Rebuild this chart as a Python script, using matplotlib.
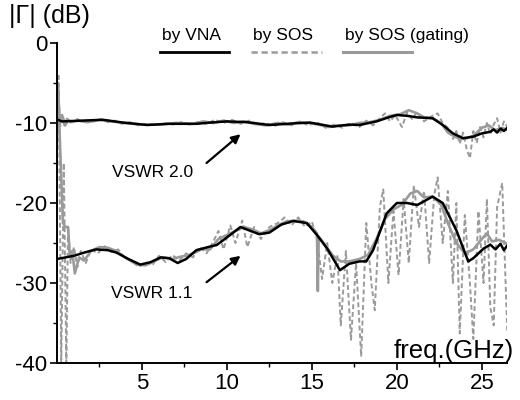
import numpy as np
import matplotlib
matplotlib.use("Agg")
import matplotlib.pyplot as plt
from matplotlib.lines import Line2D

plt.rcParams['font.family'] = ['Liberation Sans', 'DejaVu Sans']
plt.rcParams['axes.unicode_minus'] = False

# ---------------- data ----------------
# VSWR 2.0 load
vna_20_f = [0.05, 0.3, 1.5, 2.7, 3.9, 5.3, 6.6, 8.2, 9.0, 10.0, 11.2, 12.5, 13.9, 14.9, 16.2,
            17.2, 17.8, 18.8, 19.5, 20.0, 20.6, 21.2, 22.1, 22.7, 23.3, 23.9, 24.5, 25.0,
            25.5, 25.7, 25.9, 26.1, 26.3, 26.5]
vna_20_v = [-9.6, -9.8, -9.7, -9.6, -9.95, -10.25, -10.1, -10.1, -9.95, -9.8, -9.9, -10.25, -10.05,
            -9.95, -10.45, -10.2, -10.25, -9.8, -9.3, -9.0, -9.1, -9.3, -9.4, -10.25, -11.3, -11.9,
            -11.7, -11.3, -11.1, -10.8, -11.2, -10.7, -11.0, -10.6]

gate_20_f = [0.05, 0.15, 0.3, 0.45, 0.6, 0.8, 1.2, 1.8, 2.5, 3.2, 4.0, 5.0, 6.0, 7.0, 8.0, 8.6,
             9.2, 9.8, 10.4, 11.0, 11.6, 12.3, 13.0, 13.6, 14.2, 14.8, 15.4, 16.0, 16.6, 17.2,
             17.8, 18.4, 19.0, 19.6, 20.2, 20.7, 21.2, 21.6, 22.1, 22.6, 23.0, 23.5, 24.0, 24.5,
             25.0, 25.4, 25.8, 26.2, 26.5]
gate_20_v = [-5.2, -9.5, -9.0, -10.3, -9.5, -9.9, -9.7, -9.9, -9.6, -9.8, -10.0, -10.2, -10.2,
             -10.0, -10.1, -9.8, -10.0, -9.7, -10.0, -9.8, -10.1, -10.3, -10.0, -10.2, -9.9, -10.0,
             -10.2, -10.5, -10.3, -10.3, -10.0, -9.9, -9.6, -9.1, -8.9, -8.4, -8.8, -9.3, -9.4,
             -10.0, -11.2, -11.8, -12.0, -11.6, -10.6, -10.3, -10.9, -10.6, -10.9]

sos_20_f = [0.05, 0.2, 0.35, 0.5, 0.7, 0.9, 1.2, 1.5, 1.8, 2.2, 2.6, 3.0, 3.4, 3.8, 4.3, 4.8,
            5.3, 5.8, 6.3, 6.8, 7.3, 7.8, 8.3, 8.8, 9.3, 9.8, 10.3, 10.8, 11.3, 11.8, 12.3, 12.8,
            13.3, 13.8, 14.3, 14.8, 15.3, 15.8, 16.3, 16.8, 17.3, 17.8, 18.2, 18.6, 19.0, 19.3,
            19.6, 19.9, 20.3, 20.6, 20.9, 21.2, 21.6, 22.0, 22.4, 22.7, 23.0, 23.3, 23.5, 23.7,
            23.9, 24.1, 24.3, 24.5, 24.7, 24.9, 25.1, 25.3, 25.5, 25.7, 25.9, 26.1, 26.3, 26.5]
sos_20_v = [-5.0, -10.4, -9.2, -10.3, -9.6, -9.9, -9.5, -9.9, -9.6, -9.8, -9.5, -9.9, -9.7, -10.1,
            -9.9, -10.3, -10.1, -10.3, -10.0, -10.2, -9.9, -10.2, -9.9, -10.1, -9.6, -10.0, -9.6,
            -10.1, -9.7, -10.2, -10.0, -10.4, -9.9, -10.3, -9.8, -10.3, -9.9, -10.6, -10.2, -10.6,
            -10.0, -10.5, -9.7, -10.3, -9.4, -8.8, -9.8, -9.0, -10.5, -8.7, -9.5, -8.6, -9.8, -9.2,
            -8.8, -10.0, -10.6, -12.0, -11.0, -12.6, -11.2, -13.2, -14.4, -11.0, -12.5, -10.5,
            -11.8, -10.0, -11.4, -10.2, -9.4, -11.2, -9.8, -10.5]

# VSWR 1.1 load
vna_11_f = [0.0, 0.5, 1.0, 1.6, 2.3, 3.0, 3.5, 4.2, 4.9, 5.5, 6.1, 6.6, 7.1, 7.6, 8.2, 8.9, 9.4,
            10.0, 10.8, 11.4, 11.9, 12.5, 13.2, 13.9, 14.7, 15.3, 15.9, 16.65, 17.2, 17.8, 18.2,
            18.6, 19.4, 20.0, 20.6, 21.2, 22.1, 22.7, 23.5, 24.2, 24.5, 25.1, 25.5, 25.8, 26.1,
            26.3, 26.5]
vna_11_v = [-27.0, -26.8, -26.6, -26.2, -25.8, -25.9, -26.2, -27.0, -27.7, -27.4, -26.8, -26.9,
            -27.5, -27.0, -25.9, -25.5, -25.25, -24.3, -23.0, -23.5, -23.9, -23.7, -22.7, -22.25,
            -22.5, -24.0, -25.7, -28.4, -27.6, -27.3, -27.3, -25.9, -21.3, -20.0, -20.0, -20.25,
            -19.2, -20.0, -23.4, -27.3, -26.9, -25.7, -25.2, -25.8, -25.1, -25.9, -25.3]

gate_11_f = [0.05, 0.2, 0.35, 0.5, 0.65, 0.75, 0.9, 1.05, 1.3, 1.6, 2.0, 2.5, 3.0, 3.5, 4.0, 4.7,
             5.2, 5.7, 6.2, 6.8, 7.3, 7.8, 8.5, 9.0, 9.5, 10.0, 10.5, 11.0, 11.5, 12.0, 12.5,
             13.0, 13.5, 14.0, 14.5, 15.0, 15.3, 15.35, 15.4, 15.7, 16.2, 16.7, 17.2, 17.8, 18.3,
             18.8, 19.3, 19.8, 20.3, 20.8, 21.2, 21.6, 22.1, 22.6, 23.0, 23.5, 24.0, 24.5, 25.0,
             25.3, 25.6, 26.0, 26.4]
gate_11_v = [-5.0, -14.0, -22.5, -23.0, -23.0, -26.5, -26.0, -28.8, -26.8, -27.2, -26.0, -25.5,
             -25.6, -26.0, -26.8, -27.7, -27.8, -27.3, -26.8, -27.0, -26.7, -26.5, -25.8, -25.8,
             -24.5, -24.0, -23.5, -23.0, -23.3, -23.8, -23.4, -22.8, -22.3, -22.2, -22.3, -23.0,
             -23.8, -31.0, -24.2, -25.0, -26.5, -27.3, -27.3, -27.0, -26.5, -24.5, -22.0, -20.8,
             -20.2, -18.8, -18.5, -19.3, -19.2, -20.2, -22.5, -25.0, -26.3, -25.8, -24.5, -23.8,
             -24.8, -24.6, -25.0]

sos_11_f = [0.1, 0.25, 0.4, 0.55, 0.65, 0.8, 1.0, 1.2, 1.4, 1.7, 2.0, 2.4, 2.8, 3.2, 3.6, 4.0,
            4.4, 4.8, 5.2, 5.6, 6.0, 6.4, 6.8, 7.2, 7.6, 8.0, 8.4, 8.8, 9.2, 9.5, 9.8, 10.2, 10.5,
            10.9, 11.2, 11.6, 12.0, 12.5, 13.0, 13.4, 13.8, 14.2, 14.6, 15.0, 15.3, 15.6, 15.9,
            16.2, 16.5, 16.7, 17.0, 17.3, 17.6, 17.9, 18.2, 18.5, 18.7, 19.0, 19.2, 19.5, 19.8,
            20.1, 20.4, 20.7, 21.0, 21.3, 21.6, 21.9, 22.2, 22.4, 22.7, 23.0, 23.3, 23.5, 23.7,
            24.0, 24.3, 24.5, 24.8, 25.1, 25.3, 25.5, 25.7, 25.9, 26.2, 26.5]
sos_11_v = [-4.0, -40.0, -15.0, -40.0, -23.0, -27.5, -25.5, -28.0, -26.0, -27.5, -25.8, -26.3,
            -25.4, -26.1, -25.8, -26.9, -27.2, -28.0, -27.4, -27.8, -26.6, -27.4, -26.5, -27.2,
            -26.3, -26.8, -25.5, -26.3, -24.8, -23.5, -25.8, -22.8, -25.0, -22.2, -25.5, -23.0,
            -24.5, -23.0, -22.5, -21.8, -22.8, -21.8, -23.0, -22.3, -24.5, -29.5, -25.0, -30.0,
            -26.5, -35.3, -26.0, -37.1, -27.5, -39.2, -22.5, -30.0, -33.4, -20.5, -18.3, -30.0,
            -21.0, -29.0, -19.5, -27.5, -17.8, -23.0, -18.5, -27.5, -19.0, -16.8, -25.0, -18.5,
            -30.0, -20.0, -36.3, -21.5, -30.0, -37.0, -21.0, -30.0, -19.5, -33.0, -35.3, -20.5,
            -17.5, -36.3]

legend_labels = ["by VNA", "by SOS", "by SOS (gating)"]

# ---------------- figure ----------------
fig = plt.figure(figsize=(5.2, 4.0), dpi=100)
ax = fig.add_axes([0.1096, 0.0925, 0.866, 0.80])

gray = "#9a9a9a"
for f, v in [(sos_20_f, sos_20_v), (sos_11_f, sos_11_v)]:
    ax.plot(f, v, color=gray, lw=1.4, ls=(0, (2.5, 1.5)))
for f, v in [(gate_20_f, gate_20_v), (gate_11_f, gate_11_v)]:
    ax.plot(f, v, color=gray, lw=1.9)
for f, v in [(vna_20_f, vna_20_v), (vna_11_f, vna_11_v)]:
    ax.plot(f, v, color="black", lw=1.8)

ax.set_xlim(0, 26.5)
ax.set_ylim(-40, 0)
ax.set_xticks([5, 10, 15, 20, 25])
ax.set_xticks(np.arange(2.5, 26.5, 5), minor=True)
ax.set_yticks([-40, -30, -20, -10, 0])
ax.set_yticks([-35, -25, -15, -5], minor=True)
ax.tick_params(which="major", direction="out", length=5, width=1.2, labelsize=16, pad=2)
ax.tick_params(which="minor", direction="out", length=3, width=1.0)
ax.spines["top"].set_visible(False)
ax.spines["right"].set_visible(False)
ax.spines["left"].set_linewidth(1.4)
ax.spines["bottom"].set_linewidth(1.4)

# annotations: label + arrow
ax.text(5.6, -16.2, "VSWR 2.0", fontsize=12.5, ha="center", va="center")
ax.annotate("", xy=(10.8, -11.4), xytext=(8.8, -15.0),
            arrowprops=dict(arrowstyle="-|>", color="black", lw=1.6,
                            shrinkA=0, shrinkB=0, mutation_scale=13))
ax.text(5.6, -31.3, "VSWR 1.1", fontsize=12.5, ha="center", va="center")
ax.annotate("", xy=(10.8, -26.6), xytext=(8.8, -29.9),
            arrowprops=dict(arrowstyle="-|>", color="black", lw=1.6,
                            shrinkA=0, shrinkB=0, mutation_scale=13))

fig.text(0.018, 0.99, "|Γ| (dB)", fontsize=18, va="top", ha="left")
fig.text(0.988, 0.105, "freq.(GHz)", fontsize=18.5, va="baseline", ha="right")

# legend drawn as text over line samples
leg_x = [(160, 229), (251, 322), (343, 412)]
leg_styles = [dict(color="black", lw=2.0),
              dict(color=gray, lw=1.8, ls=(0, (2.5, 1.5))),
              dict(color=gray, lw=2.2)]
for (x0, x1), lab, st in zip(leg_x, legend_labels, leg_styles):
    fig.text(x0 / 520 + 0.003, 1 - 40 / 400, lab, fontsize=12.5, va="baseline", ha="left")
    fig.add_artist(Line2D([x0 / 520, x1 / 520], [1 - 52 / 400] * 2, **st))

fig.savefig("out.png", dpi=100)
